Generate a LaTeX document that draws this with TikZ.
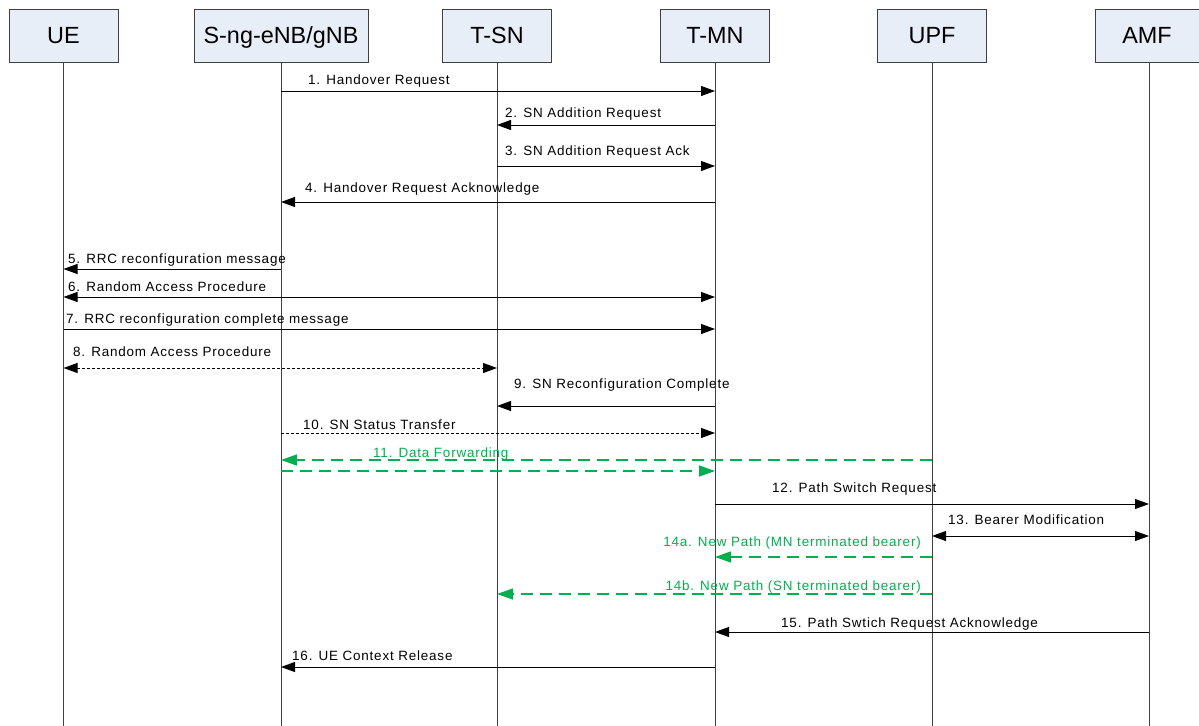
\documentclass[tikz,border=0pt]{standalone}
\usepackage{fontspec}
\setmainfont{Liberation Sans}
\newfontfamily\lblfont[LetterSpace=6]{Liberation Sans}
\usetikzlibrary{arrows.meta}
\definecolor{boxfill}{HTML}{E8EEF7}
\definecolor{dgreen}{HTML}{00B050}
\tikzset{
  actor/.style={draw=black!75, line width=0.9bp, fill=boxfill, minimum width=109bp, minimum height=53bp, inner sep=0pt, text depth=0pt, font=\fontsize{23.5}{26}\selectfont},
  life/.style={draw=black!75, line width=0.9bp},
  msg/.style={draw=black, line width=0.9bp, -{Triangle[length=14bp,width=10bp]}},
  bimsg/.style={draw=black, line width=0.9bp, {Triangle[length=14bp,width=10bp]}-{Triangle[length=14bp,width=10bp]}},
  dmsg/.style={msg, dash pattern=on 3bp off 2bp},
  dbimsg/.style={bimsg, dash pattern=on 3bp off 2bp},
  gmsg/.style={draw=dgreen, line width=1.3bp, dash pattern=on 12bp off 7bp, -{Triangle[length=16bp,width=11bp]}},
  lbl/.style={inner sep=0pt, anchor=base west, font=\lblfont\fontsize{13.5}{16}\selectfont},
  glbl/.style={lbl, text=dgreen},
}
\begin{document}
\begin{tikzpicture}[x=1bp, y=-1bp]
\useasboundingbox (0,0) rectangle (1199,726);
% actors
\node[actor] (ue)  at (63.5,35.5) {UE};
\node[actor, minimum width=174bp] (sng) at (281,35.5) {S-ng-eNB/gNB};
\node[actor] (tsn) at (497,35.5) {T-SN};
\node[actor] (tmn) at (715,35.5) {T-MN};
\node[actor] (upf) at (932,35.5) {UPF};
\node[actor, minimum width=104bp] (amf) at (1147,35.5) {AMF};
\coordinate (amfL) at (1149,62);
% lifelines
\coordinate (end) at (0,726);
\draw[life] (ue.south) -- (ue.south |- end);
\draw[life] (sng.south) -- (sng.south |- end);
\draw[life] (tsn.south) -- (tsn.south |- end);
\draw[life] (tmn.south) -- (tmn.south |- end);
\draw[life] (upf.south) -- (upf.south |- end);
\draw[life] (amfL) -- (amfL |- end);
% messages
\draw[msg] (sng |- 0,91) -- (tmn |- 0,91);
\node[lbl] (l1) at (308,85) {1. Handover Request};
\draw[msg] (tmn |- 0,125) -- (tsn |- 0,125);
\node[lbl] (l2) at (505,118) {2. SN Addition Request};
\draw[msg] (tsn |- 0,166) -- (tmn |- 0,166);
\node[lbl] (l3) at (505,156) {3. SN Addition Request Ack};
\draw[msg] (tmn |- 0,202) -- (sng |- 0,202);
\node[lbl] (l4) at (305,193) {4. Handover Request Acknowledge};
\draw[msg] (sng |- 0,269) -- (ue |- 0,269);
\node[lbl] (l5) at (68,263) {5. RRC reconfiguration message};
\draw[bimsg] (ue |- 0,297) -- (tmn |- 0,297);
\node[lbl] (l6) at (68,291) {6. Random Access Procedure};
\draw[msg] (ue |- 0,329) -- (tmn |- 0,329);
\node[lbl] (l7) at (66,323) {7. RRC reconfiguration complete message};
\draw[dbimsg] (ue |- 0,368) -- (tsn |- 0,368);
\node[lbl] (l8) at (73,356) {8. Random Access Procedure};
\draw[msg] (tmn |- 0,406) -- (tsn |- 0,406);
\node[lbl] (l9) at (514,388) {9. SN Reconfiguration Complete};
\draw[dmsg] (sng |- 0,433) -- (tmn |- 0,433);
\node[lbl] (l10) at (303,429) {10. SN Status Transfer};
\draw[gmsg] (upf |- 0,460) -- (sng |- 0,460);
\draw[gmsg] (sng |- 0,471) -- (tmn |- 0,471);
\node[glbl] (l11) at (373,457) {11. Data Forwarding};
\draw[msg] (tmn |- 0,504) -- (amfL |- 0,504);
\node[lbl] (l12) at (772,492) {12. Path Switch Request};
\draw[bimsg] (upf |- 0,536) -- (amfL |- 0,536);
\node[lbl] (l13) at (948,524) {13. Bearer Modification};
\draw[gmsg] (upf |- 0,557) -- (tmn |- 0,557);
\node[glbl, anchor=base east] (l14a) at (921,546) {14a. New Path (MN terminated bearer)};
\draw[gmsg] (upf |- 0,594) -- (tsn |- 0,594);
\node[glbl, anchor=base east] (l14b) at (921,590) {14b. New Path (SN terminated bearer)};
\draw[msg] (amfL |- 0,632) -- (tmn |- 0,632);
\node[lbl] (l15) at (781,627) {15. Path Swtich Request Acknowledge};
\draw[msg] (tmn |- 0,667) -- (sng |- 0,667);
\node[lbl] (l16) at (292,660) {16. UE Context Release};
\end{tikzpicture}
\end{document}
